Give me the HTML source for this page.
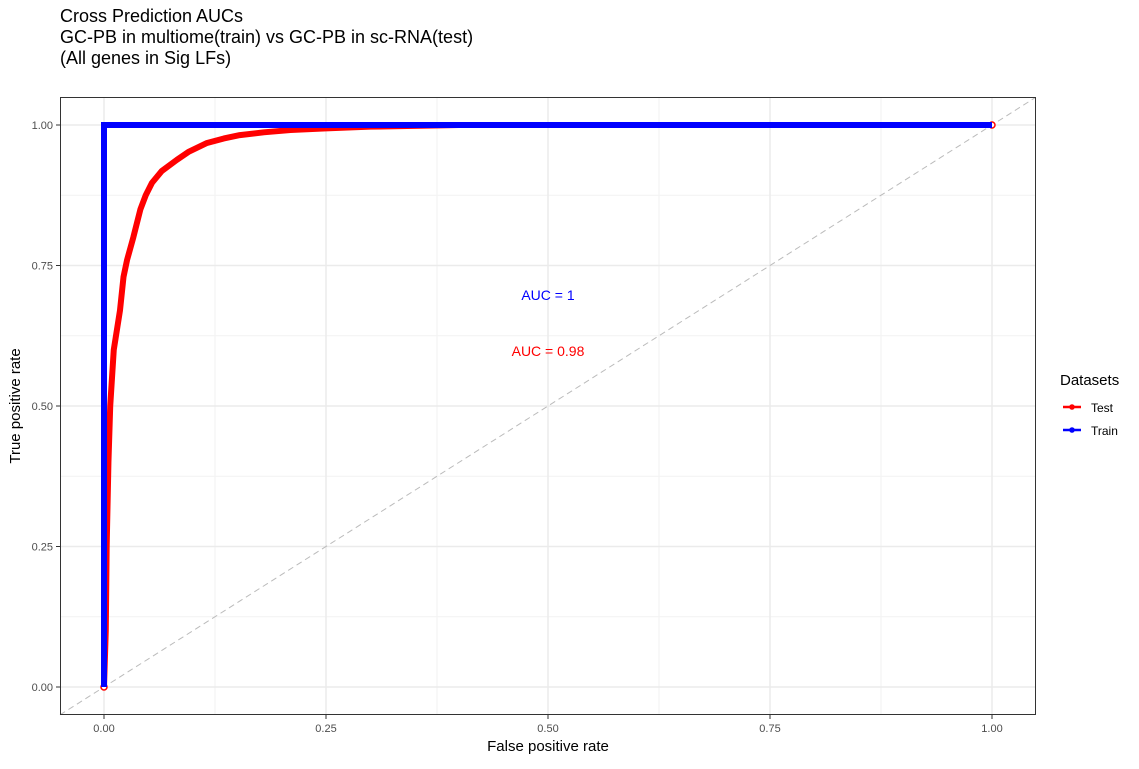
<!DOCTYPE html>
<html><head><meta charset="utf-8"><style>
body{margin:0;background:#fff;font-family:"Liberation Sans",sans-serif;}
svg text{font-family:"Liberation Sans",sans-serif;}
</style></head><body>
<svg id="chart" width="1139" height="764" xmlns="http://www.w3.org/2000/svg">
<g font-size="18" fill="#000">
<text x="60" y="22">Cross Prediction AUCs</text>
<text x="60" y="43">GC-PB in multiome(train) vs GC-PB in sc-RNA(test)</text>
<text x="60" y="64">(All genes in Sig LFs)</text>
</g>
<g id="grid"></g>
<g id="marks"></g>
<rect x="60.5" y="97.5" width="975" height="617" fill="none" stroke="#333" stroke-width="1"/>
<g id="axes"></g>
<text x="548" y="751" text-anchor="middle" font-size="15">False positive rate</text>
<text transform="translate(20,406) rotate(-90)" text-anchor="middle" font-size="15">True positive rate</text>
<text x="548" y="300" text-anchor="middle" font-size="14" fill="#0000ff">AUC = 1</text>
<text x="548" y="356" text-anchor="middle" font-size="14" fill="#ff0000">AUC = 0.98</text>
<g>
<text x="1060" y="385" font-size="15">Datasets</text>
<g><line x1="1063" y1="407" x2="1081" y2="407" stroke="#f00" stroke-width="2.5"/><circle cx="1072" cy="407" r="2.8" fill="#f00"/><text x="1091" y="412" font-size="12">Test</text></g>
<g><line x1="1063" y1="430" x2="1081" y2="430" stroke="#00f" stroke-width="2.5"/><circle cx="1072" cy="430" r="2.8" fill="#00f"/><text x="1091" y="435" font-size="12">Train</text></g>
</g>
</svg>
<script>
const ticks=[0,0.25,0.5,0.75,1];
const tickLabels=["0.00","0.25","0.50","0.75","1.00"];
const testFpr=[0,0.002,0.003,0.005,0.007,0.011,0.015,0.018,0.022,0.026,0.033,0.041,0.047,0.054,0.065,0.082,0.095,0.116,0.135,0.153,0.18,0.21,0.25,0.3,0.4,1];
const testTpr=[0,0.1,0.25,0.4,0.5,0.6,0.64,0.67,0.73,0.76,0.8,0.85,0.875,0.897,0.918,0.938,0.952,0.968,0.976,0.982,0.987,0.991,0.994,0.997,1,1];
const trainFpr=[0,0,1];
const trainTpr=[0,1,1];
const X=v=>104+v*888, Y=v=>687-v*562;
const NS="http://www.w3.org/2000/svg";
const mk=(t,a,p)=>{const e=document.createElementNS(NS,t);for(const k in a)e.setAttribute(k,a[k]);p.appendChild(e);return e;};
const grid=document.getElementById('grid'),marks=document.getElementById('marks'),axes=document.getElementById('axes');
for(let i=0;i<ticks.length-1;i++){const m=(ticks[i]+ticks[i+1])/2;
 const gv=mk('line',{x1:X(m),x2:X(m),y1:97,y2:714,stroke:'#f2f2f2','stroke-width':1},grid);
 
 const gh=mk('line',{x1:60,x2:1035,y1:Y(m),y2:Y(m),stroke:'#f2f2f2','stroke-width':1},grid);
 }
ticks.forEach((t,i)=>{
 const gv=mk('line',{x1:X(t),x2:X(t),y1:97,y2:714,stroke:'#ebebeb','stroke-width':1.5},grid);
 
 const gh=mk('line',{x1:60,x2:1035,y1:Y(t),y2:Y(t),stroke:'#ebebeb','stroke-width':1.5},grid);
 
 const a=mk('line',{x1:X(t),x2:X(t),y1:715,y2:719,stroke:'#333'},axes);
 
 const tx=mk('text',{x:X(t),y:732,'text-anchor':'middle','font-size':11,fill:'#4d4d4d'},axes);tx.textContent=tickLabels[i];
 
 const b=mk('line',{x1:56,x2:60,y1:Y(t),y2:Y(t),stroke:'#333'},axes);
 
 const ty=mk('text',{x:53,y:Y(t)+4,'text-anchor':'end','font-size':11,fill:'#4d4d4d'},axes);ty.textContent=tickLabels[i];
 
});
const d=mk('line',{x1:60,y1:Y((60-104)/888),x2:1035,y2:Y((1035-104)/888),stroke:'#bbb','stroke-dasharray':'6,4','stroke-width':1},marks);

const path=(xs,ys)=>xs.map((x,i)=>(i?'L':'M')+X(x)+','+Y(ys[i])).join(' ');
const rt=mk('path',{d:path(testFpr,testTpr),fill:'none',stroke:'#f00','stroke-width':6,'stroke-linejoin':'round'},marks);

[0,testFpr.length-1].forEach(i=>{const c=mk('circle',{cx:X(testFpr[i]),cy:Y(testTpr[i]),r:3,fill:'#fff',stroke:'#f00','stroke-width':1.5},marks);
 });
const bt=mk('path',{d:path(trainFpr,trainTpr),fill:'none',stroke:'#00f','stroke-width':6,'stroke-linejoin':'miter'},marks);

</script>
</body></html>
